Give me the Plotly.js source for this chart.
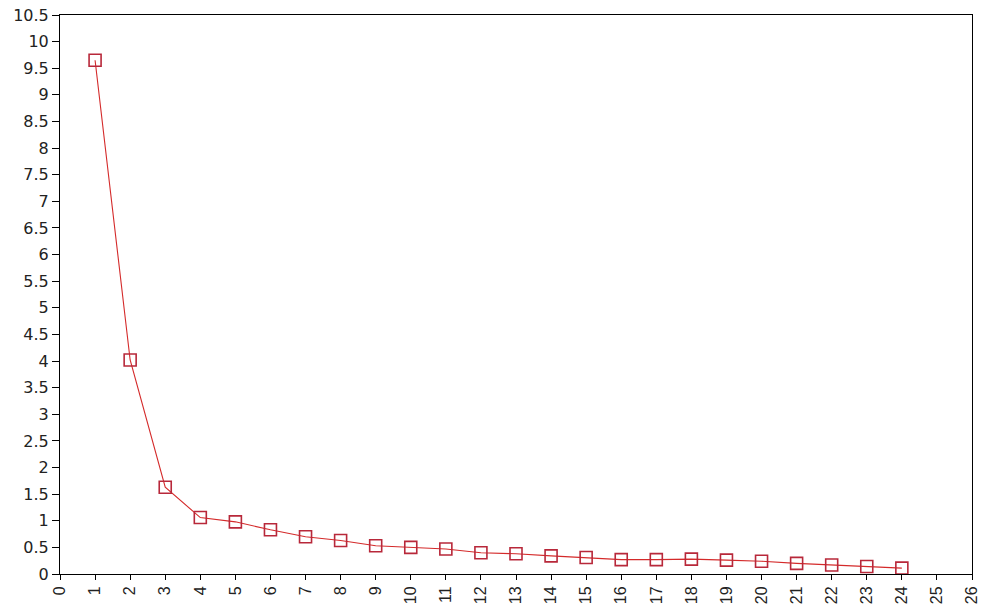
<!DOCTYPE html>
<html>
<head>
<meta charset="utf-8">
<script src="https://cdn.plot.ly/plotly-3.0.1.min.js"></script>
<style>html,body{margin:0;padding:0;background:#fff;}#chart{width:983px;height:606px;}</style>
</head>
<body>
<div id="chart"></div>
<script>
const components = [1,2,3,4,5,6,7,8,9,10,11,12,13,14,15,16,17,18,19,20,21,22,23,24];
const eigenvalues = [9.65,4.02,1.63,1.06,0.98,0.83,0.70,0.63,0.53,0.50,0.47,0.40,0.38,0.34,0.31,0.27,0.27,0.28,0.26,0.24,0.20,0.17,0.14,0.11];
const xTicks = Array.from({length:27},(_,i)=>i);
const yTicks = Array.from({length:22},(_,i)=>i*0.5);

Plotly.newPlot('chart', [{
  x: components,
  y: eigenvalues,
  type: 'scatter',
  mode: 'lines+markers',
  line: {color: '#d42a2a', width: 1.1},
  marker: {symbol: 'square-open', size: 12, color: '#b8283a', line: {width: 1.6, color: '#b8283a'}},
  cliponaxis: false
}], {
  width: 983, height: 606,
  margin: {l: 60, r: 11, t: 15, b: 32},
  paper_bgcolor: '#fff', plot_bgcolor: '#fff',
  showlegend: false,
  font: {family: 'DejaVu Sans, Arial, sans-serif', size: 16, color: '#222'},
  xaxis: {
    range: [0, 26], tickmode: 'array', tickvals: xTicks, ticktext: xTicks.map(String),
    tickangle: -90, ticks: 'outside', ticklen: 5, tickcolor: '#000',
    showline: true, linecolor: '#000', linewidth: 1, mirror: true,
    showgrid: false, zeroline: false,
    tickfont: {family: 'Liberation Sans, Arial, sans-serif', size: 16}
  },
  yaxis: {
    range: [0, 10.5], tickmode: 'array', tickvals: yTicks, ticktext: yTicks.map(v => String(v)),
    ticks: 'outside', ticklen: 7, tickcolor: '#000',
    showline: true, linecolor: '#000', linewidth: 1, mirror: true,
    showgrid: false, zeroline: false, tickfont: {size: 16}
  }
}, {displayModeBar: false, staticPlot: true});
</script>
</body>
</html>
